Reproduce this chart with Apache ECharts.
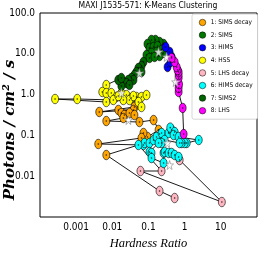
<!DOCTYPE html>
<html><head><meta charset="utf-8">
<script src="https://cdn.jsdelivr.net/npm/echarts@6/dist/echarts.min.js"></script>
<style>html,body{margin:0;padding:0;background:#fff}#c{width:269px;height:255px}</style>
</head><body><div id="c"></div>
<script>
const clusterNames = ['1: SIMS decay','2: SIMS','3: HIMS','4: HSS','5: LHS decay','6: HIMS decay','7: SIMS2','8: LHS'];
const clusterColors = ['#FFA500','#007800','#0000FF','#FFFF00','#FFB6C1','#00FFFF','#006400','#FF00FF'];

// time-ordered observations
const hardness = [
  0.938,0.880,0.681,0.681,0.70,0.681,0.681,0.681,0.639,0.6,0.528,0.435,
  0.337,0.409,0.435,0.383,0.296,
  0.261,0.202,0.156,0.121,0.0938,0.1066,0.138,0.178,0.230,0.261,0.202,0.167,0.121,0.088,0.1066,0.147,
  0.0726,0.0639,0.0527,0.0639,0.0464,0.0408,0.0337,0.0383,0.0278,0.0202,0.0245,0.0297,0.0178,0.0146,0.0178,
  0.00681,0.00528,0.00681,0.00938,0.0129,0.0178,0.0245,0.0337,0.0464,0.0639,0.088,0.0527,0.0297,0.0202,0.00681,0.000261,0.00107,0.01066,0.01468,0.0383,0.0639,
  0.0408,0.00435,0.0383,0.01468,0.0178,0.0215,0.0297,0.0408,0.0202,0.00681,0.0562,0.138,0.190,0.0938,0.0726,0.0639,0.00408,
  0.0726,0.0774,0.1066,0.138,0.167,0.230,0.202,0.359,0.435,0.40,0.528,0.495,0.681,2.45,1.137,1.0,0.825,0.726,0.278,0.230,0.190,0.1066,0.121,0.121,0.261,0.261,0.278,0.359,0.435,0.528,0.681,
  0.726,10.66,0.0600,0.230,0.0527,0.00681,0.202,0.528
];
const flux = [
  0.108,0.470,1.16,1.45,1.80,2.55,3.02,3.58,4.01,4.75,6.30,7.89,
  4.75,6.30,8.36,11.1,14.7,
  17.4,19.5,21.8,21.8,17.4,13.9,14.7,15.5,12.4,10.5,8.83,11.1,10.5,9.35,7.89,8.36,
  6.30,5.02,4.49,3.58,3.58,3.02,2.55,2.28,2.28,2.04,1.92,1.72,1.62,2.28,2.55,
  1.72,1.16,1.09,1.09,0.873,1.09,0.977,0.826,0.873,0.873,0.977,0.659,0.738,0.738,0.659,0.78,0.78,0.738,0.925,0.925,0.497,
  0.497,0.375,0.420,0.420,0.354,0.316,0.354,0.316,0.267,0.225,0.213,0.238,0.136,0.0914,0.1145,0.0863,0.0616,
  0.0582,0.0651,0.0651,0.0771,0.0914,0.1145,0.108,0.1145,0.136,0.155,0.121,0.102,0.0914,0.0771,0.0651,0.0651,0.0651,0.0651,0.0771,0.0651,0.0651,0.0392,0.0371,0.0279,0.0211,0.0371,0.0392,0.0371,0.0371,0.0331,0.0296,
  0.0249,0.00233,0.0134,0.0134,0.0582,0.0331,0.00434,0.00292
];
const cluster = [
  8,8,8,8,8,8,8,8,8,8,8,8,
  3,3,3,3,3,
  2,2,2,2,2,2,2,2,2,2,2,2,2,2,2,2,
  7,7,7,7,7,7,7,7,7,7,7,7,7,7,7,
  4,4,4,4,4,4,4,4,4,4,4,4,4,4,4,4,4,4,4,4,4,
  1,1,1,1,1,1,1,1,1,1,1,1,1,1,1,1,1,
  6,6,6,6,6,6,5,6,6,6,6,6,6,6,6,6,6,6,6,6,6,6,6,6,6,6,6,6,6,6,6,
  5,5,5,5,6,1,5,5
];
// cluster centroids (star markers)
const centroidHardness = [0.0278,0.190,0.316,0.0178,0.383,0.33,0.0562,0.562];
const centroidFlux     = [0.238,11.1,8.36,1.09,0.0188,0.065,3.38,2.04];

const xTickLabels = ['0.001','0.01','0.1','1','10'];
const xTickExp = [-3,-2,-1,0,1];
const yTickLabels = ['0.01','0.1','1.0','10.0','100.0'];
const yTickExp = [-2,-1,0,1,2];

const ELLIPSE = 'path://M1,0A1,1,0,1,1,-1,0A1,1,0,1,1,1,0Z';
const STAR = 'path://M0,-10L2.35,-3.24L9.51,-3.09L3.8,1.24L5.88,8.09L0,4L-5.88,8.09L-3.8,1.24L-9.51,-3.09L-2.35,-3.24Z';
const NARROW = "'Liberation Sans Narrow','DejaVu Sans Condensed','Liberation Sans',sans-serif";

function fmt(exps, labels){
  return function(v){
    const e = Math.round(Math.log10(v));
    if (Math.abs(Math.log10(v) - e) > 0.01) return '';
    const i = exps.indexOf(e);
    return i < 0 ? '' : labels[i];
  };
}

const series = [];
series.push({
  type:'line', data: hardness.map((h,i)=>[h,flux[i]]), symbol:'none', silent:true,
  lineStyle:{color:'#000', width:0.9}, z:1, animation:false
});
clusterNames.forEach((name,k)=>{
  series.push({
    type:'scatter', name, symbol: ELLIPSE, symbolSize:[7,9.5],
    data: hardness.map((h,i)=>[h,flux[i],cluster[i]]).filter(d=>d[2]===k+1).map(d=>[d[0],d[1]]),
    itemStyle:{color:clusterColors[k], borderColor:'#000', borderWidth:0.6, opacity:1},
    z:2+k, animation:false
  });
});
series.push({
  type:'scatter', symbol:'circle', symbolSize:1.6, silent:true,
  data: hardness.map((h,i)=>[h,flux[i]]),
  itemStyle:{color:'#000'}, z:11, animation:false
});
series.push({
  type:'scatter', symbol: STAR, symbolSize:[8,9], silent:true,
  data: centroidHardness.map((h,i)=>[h,centroidFlux[i]]),
  itemStyle:{color:'#fff', borderColor:'#888', borderWidth:0.8}, z:12, animation:false
});

const chart = echarts.init(document.getElementById('c'), null, {renderer:'canvas'});
chart.setOption({
  animation:false,
  backgroundColor:'#fff',
  title:{text:'MAXI J1535-571: K-Means Clustering', left:148, top:1, textAlign:'center', padding:0,
    textStyle:{fontSize:8.5, fontWeight:'normal', color:'#000', fontFamily:NARROW}},
  grid:{left:40, right:12, top:13, bottom:38, show:true, borderColor:'#000', borderWidth:1, containLabel:false},
  legend:{
    orient:'vertical', left:192, top:14, padding:[4,5,4,7], itemGap:3.6, itemWidth:6.5, itemHeight:9,
    data: clusterNames.map(n=>({name:n, icon:ELLIPSE})),
    textStyle:{fontSize:6.5, color:'#000', fontFamily:NARROW, lineHeight:9},
    borderColor:'#ccc', borderWidth:0.8, borderRadius:2, backgroundColor:'#fff',
    itemStyle:{borderColor:'#000', borderWidth:0.5}
  },
  xAxis:{type:'log', logBase:10, min:0.0001, max:100, splitNumber:6,
    axisLine:{show:false}, axisTick:{show:false}, splitLine:{show:false},
    axisLabel:{formatter:fmt(xTickExp,xTickLabels), fontSize:10, color:'#000', margin:5, fontFamily:NARROW, showMinLabel:true, showMaxLabel:true},
    name:'Hardness Ratio', nameLocation:'middle', nameGap:20,
    nameTextStyle:{fontFamily:"'Liberation Serif','DejaVu Serif',serif", fontStyle:'italic', fontSize:12.5, color:'#000'}
  },
  yAxis:{type:'log', logBase:10, min:0.001, max:100, splitNumber:5,
    axisLine:{show:false}, axisTick:{show:false}, splitLine:{show:false},
    axisLabel:{formatter:fmt(yTickExp,yTickLabels), fontSize:10, color:'#000', margin:5, fontFamily:NARROW, showMinLabel:true, showMaxLabel:true}
  },
  graphic:[{
    type:'text', x:10, y:130, rotation:Math.PI/2,
    style:{text:'Photons / cm² / s', x:0, y:0, align:'center', verticalAlign:'middle',
      textAlign:'center', textVerticalAlign:'middle',
      font:"italic bold 15px 'DejaVu Serif', serif", fill:'#000'}
  }],
  series
});
</script>
</body></html>
